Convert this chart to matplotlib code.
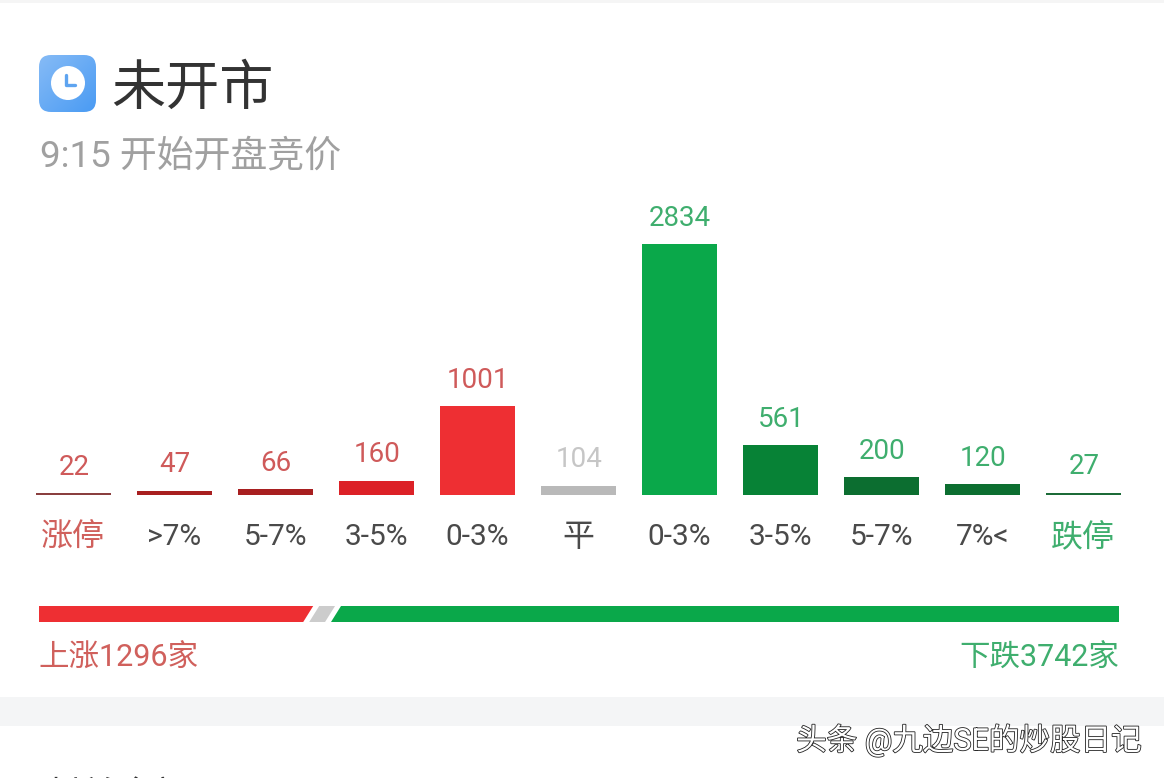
import matplotlib
matplotlib.use('Agg')
import matplotlib.pyplot as plt
import matplotlib.patheffects as pe
from matplotlib.patches import Circle, FancyBboxPatch, Polygon
import numpy as np

plt.rcParams['font.family'] = ['Roboto', 'Noto Sans CJK SC', 'DejaVu Sans']

W, H = 1164, 778

categories = ['涨停', '>7%', '5-7%', '3-5%', '0-3%', '平', '0-3%', '3-5%', '5-7%', '7%<', '跌停']
values = [22, 47, 66, 160, 1001, 104, 2834, 561, 200, 120, 27]
bar_colors = ['#8a3f3f', '#a81f20', '#a81f20', '#dc2127', '#ee2f33', '#b9b9b9',
              '#0aa84a', '#078236', '#0c6e30', '#0c6e30', '#1c6b38']
value_colors = ['#cf5a5a'] * 5 + ['#c6c6c6'] + ['#3fae6e'] * 5
label_colors = ['#d0605c'] + ['#4a4a4a'] * 9 + ['#3fae6e']

up_total = 1296
flat_total = 104
down_total = 3742


def px_axes(fig, x0, y0, x1, y1):
    # axes from image pixel box (y measured from the top)
    return fig.add_axes([x0 / W, 1 - y1 / H, (x1 - x0) / W, (y1 - y0) / H])


fig = plt.figure(figsize=(W / 100, H / 100), dpi=100, facecolor='white')

# page layer in pixel coordinates
bg = fig.add_axes([0, 0, 1, 1])
bg.set_xlim(0, W)
bg.set_ylim(H, 0)
bg.axis('off')
bg.axhspan(0, 3, color='#f5f5f5', lw=0)
bg.axhspan(697, 726, color='#f4f5f6', lw=0)

# clock icon
grad = np.linspace(0, 1, 64)[None, :] + np.linspace(0, 1, 64)[:, None]
im = bg.imshow(grad, extent=(39, 96, 112, 55), cmap=matplotlib.colors.LinearSegmentedColormap.from_list(
    'icon', ['#86bbf6', '#4a9bf3']), aspect='auto', zorder=2)
box = FancyBboxPatch((46, 62), 43, 43, boxstyle='round,pad=7,rounding_size=12',
                     fc='none', ec='none', transform=bg.transData)
bg.add_patch(box)
im.set_clip_path(box)
bg.set_xlim(0, W)
bg.set_ylim(H, 0)
bg.add_patch(Circle((68, 83), 17, fc='white', ec='none', zorder=3))
bg.plot([66, 66, 75], [75, 85, 85], color='#5ea4f0', lw=2.4, zorder=4, solid_capstyle='round')

bg.text(111, 90, '未开市', fontsize=39, color='#333333', va='center', ha='left', fontweight='medium')
bg.text(40, 157, '9:15 开始开盘竞价', fontsize=26.6, color='#a0a0a0', va='center', ha='left')

# histogram
ax = px_axes(fig, 22.7, 244, 1133.7, 495)
ax.patch.set_alpha(0)
x = np.arange(len(values))
bars = ax.bar(x, values, width=75 / 101, color=bar_colors)
ax.set_xlim(-0.5, len(values) - 0.5)
ax.set_ylim(0, max(values))
for spine in ax.spines.values():
    spine.set_visible(False)
ax.set_yticks([])
ax.set_xticks(x, categories, fontsize=21.5)
ax.tick_params(axis='x', length=0, pad=20)
for tick, c, name in zip(ax.get_xticklabels(), label_colors, categories):
    tick.set_color(c)
    if not name[0].isascii():
        tick.set_fontsize(23)
for xi, v, c in zip(x, values, value_colors):
    ax.annotate(str(v), (xi, v), xytext=(0.5, 9), textcoords='offset points', ha='center', va='bottom',
                fontsize=20, color=c, annotation_clip=False)

# up / flat / down strip
total = up_total + flat_total + down_total
rb = px_axes(fig, 39, 606, 1119, 622)
rb.set_xlim(0, total)
rb.set_ylim(0, 1)
rb.axis('off')
slant = 5 / 1080 * total
gap = 3 / 1080 * total
flat_end = up_total + flat_total
rb.add_patch(Polygon([(0, 0), (up_total - gap - slant, 0), (up_total - gap + slant, 1), (0, 1)],
                     fc='#ee2f33', ec='none'))
rb.add_patch(Polygon([(up_total + gap - slant, 0), (flat_end - gap - slant, 0),
                      (flat_end - gap + slant, 1), (up_total + gap + slant, 1)], fc='#cccccc', ec='none'))
rb.add_patch(Polygon([(flat_end + gap - slant, 0), (total, 0), (total, 1), (flat_end + gap + slant, 1)],
                     fc='#0aa84a', ec='none'))

bg.text(38, 658, f'上涨{up_total}家', fontsize=22, color='#d0605c', va='center', ha='left')
bg.text(1119, 658, f'下跌{down_total}家', fontsize=22, color='#3fae6e', va='center', ha='right')

# cut off heading at the bottom edge
bg.text(46, 798, '封单金额', fontsize=26, color='#333333', va='center', ha='left', clip_on=True)

# watermark
bg.text(1141, 740, '头条 @九边SE的炒股日记', fontsize=22, color='white', va='center', ha='right',
        path_effects=[pe.withStroke(linewidth=1.2, foreground='#222222')], zorder=6)

fig.savefig('out.png', dpi=100)
